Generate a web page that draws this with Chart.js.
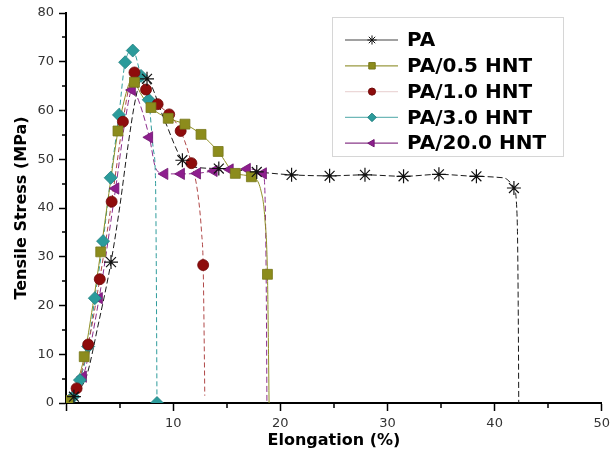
<!DOCTYPE html>
<html>
<head>
<meta charset="utf-8">
<script src="https://cdn.jsdelivr.net/npm/chart.js"></script>
<style>
  html, body { margin: 0; padding: 0; background: #fff; }
  #wrap { width: 610px; height: 452px; }
</style>
</head>
<body>
<div id="wrap"><canvas id="stressChart" width="610" height="452"></canvas></div>
<script>
// tensile curves, points are [elongation %, stress MPa]
const seriesNames = ['PA', 'PA/0.5 HNT', 'PA/1.0 HNT', 'PA/3.0 HNT', 'PA/20.0 HNT'];

const paCurve = [[0.5, 0], [0.74, 1.3], [1.9, 5.4], [3.0, 16], [4.2, 28.9], [5.0, 40], [5.8, 53], [6.5, 62.5],
  [7.1, 66.8], [7.56, 66.5], [9.2, 58], [10.86, 49.8], [12.3, 48.3], [14.26, 48.1], [17.8, 47.4], [21.05, 46.8],
  [24.6, 46.6], [27.9, 46.8], [31.5, 46.5], [34.8, 46.9], [38.3, 46.5], [40.8, 46.2], [41.8, 44.1], [42.1, 38],
  [42.2, 20], [42.25, 0]];
const paMarks = [[0.74, 1.3], [4.2, 28.9], [7.56, 66.5], [10.86, 49.8], [14.26, 48.1], [17.8, 47.4], [21.05, 46.8],
  [24.6, 46.6], [27.9, 46.8], [31.5, 46.5], [34.8, 46.9], [38.3, 46.5], [41.8, 44.1]];

const hnt05Curve = [[0.1, 0], [0.2, 0.5], [1.0, 4], [1.7, 9.5], [2.5, 20], [3.24, 31.0], [4.0, 43], [4.85, 55.8],
  [5.6, 63.5], [6.1, 66.2], [6.39, 65.8], [7.1, 63], [7.93, 60.6], [9.54, 58.4], [11.1, 57.2], [12.6, 55.1],
  [14.2, 51.6], [15.8, 47.1], [17.3, 46.4], [18.2, 43.5], [18.55, 38], [18.8, 26.4], [18.9, 10], [18.95, 0]];
const hnt05Marks = [[0.2, 0.5], [1.7, 9.5], [3.24, 31.0], [4.85, 55.8], [6.39, 65.8], [7.93, 60.6], [9.54, 58.4],
  [11.1, 57.2], [12.6, 55.1], [14.2, 51.6], [15.8, 47.1], [17.3, 46.4], [18.8, 26.4]];

const hnt10Curve = [[0.4, 0], [0.99, 3.0], [2.07, 12], [3.15, 25.4], [4.26, 41.3], [5.31, 57.7], [5.9, 65],
  [6.39, 67.8], [6.8, 67.3], [7.47, 64.3], [8.55, 61.3], [9.63, 59.2], [10.7, 55.8], [11.7, 49.2], [12.3, 43],
  [12.65, 35], [12.8, 28.3], [12.9, 12], [12.95, 1.5]];
const hnt10Marks = [[0.99, 3.0], [2.07, 12], [3.15, 25.4], [4.26, 41.3], [5.31, 57.7], [6.39, 67.8], [7.47, 64.3],
  [8.55, 61.3], [9.63, 59.2], [10.7, 55.8], [11.7, 49.2], [12.8, 28.3]];

const hnt30Curve = [[0.3, 0], [0.68, 1.3], [1.3, 4.7], [2.07, 11.6], [2.69, 21.5], [3.46, 33.2], [4.17, 46.2],
  [4.94, 59.1], [5.52, 69.9], [6.23, 72.3], [7.0, 67.1], [7.72, 62.2], [8.15, 52], [8.35, 46], [8.42, 30], [8.49, 0]];
const hnt30Marks = [[0.68, 1.3], [1.3, 4.7], [2.07, 11.6], [2.69, 21.5], [3.46, 33.2], [4.17, 46.2], [4.94, 59.1],
  [5.52, 69.9], [6.23, 72.3], [7.0, 67.1], [7.72, 62.2], [8.49, 0]];

const hnt200Curve = [[0.1, 0], [0.2, 0.8], [1.6, 5.4], [3.09, 21.5], [4.63, 44.0], [5.6, 59], [6.17, 64.2],
  [6.6, 63], [7.78, 54.5], [8.4, 48], [9.2, 47.0], [10.75, 47.0], [12.25, 47.1], [13.8, 47.6], [15.3, 47.9],
  [16.9, 48.0], [18.4, 47.1], [18.6, 40], [18.7, 20], [18.75, 0]];
const hnt200Marks = [[0.2, 0.8], [1.6, 5.4], [3.09, 21.5], [4.63, 44.0], [6.17, 64.2], [7.78, 54.5], [9.2, 47.0],
  [10.75, 47.0], [12.25, 47.1], [13.8, 47.6], [15.3, 47.9], [16.9, 48.0], [18.4, 47.1]];

const xTickValues = [0, 10, 20, 30, 40, 50];
const yTickValues = [0, 10, 20, 30, 40, 50, 60, 70, 80];

const curves = [paCurve, hnt05Curve, hnt10Curve, hnt30Curve, hnt200Curve];
const marks = [paMarks, hnt05Marks, hnt10Marks, hnt30Marks, hnt200Marks];

// look of each series
const looks = [
  { line: '#1a1a1a', dash: [6, 3], fill: '#111', edge: '#111', style: 'star', r: 7, rot: 0, key: '#444' },
  { line: '#8f8f25', dash: [], fill: '#8c8c1c', edge: '#77771a', style: 'rect', r: 7, rot: 0, key: '#9a9a40' },
  { line: '#b04848', dash: [5, 3], fill: '#8e0c0c', edge: '#6e0808', style: 'circle', r: 5.5, rot: 0, key: '#ecd8d8' },
  { line: '#2f9c9c', dash: [5, 3], fill: '#2b9b9b', edge: '#1f8080', style: 'rectRot', r: 6.5, rot: 0, key: '#6fb8b8' },
  { line: '#8c2c8c', dash: [6, 3], fill: '#8e1e8e', edge: '#701870', style: 'triangle', r: 6.5, rot: -90, key: '#8a3a8a' }
];

const toXY = (list) => list.map(([x, y]) => ({ x, y }));

const datasets = [];
curves.forEach((curve, i) => {
  const lk = looks[i];
  datasets.push({
    label: seriesNames[i],
    data: toXY(curve),
    borderColor: lk.line,
    borderWidth: 1,
    borderDash: lk.dash,
    pointRadius: 0,
    cubicInterpolationMode: 'monotone',
    fill: false,
    order: 2
  });
  datasets.push({
    label: seriesNames[i] + ' marks',
    data: toXY(marks[i]),
    showLine: false,
    pointStyle: lk.style,
    pointRadius: lk.r,
    pointRotation: lk.rot,
    pointBackgroundColor: lk.fill,
    pointBorderColor: lk.edge,
    pointBorderWidth: lk.style === 'star' ? 1.2 : 0.8,
    order: 1
  });
});

// short ticks halfway between the labelled ones
const minorTicks = {
  id: 'minorTicks',
  afterDraw(chart) {
    const { ctx } = chart;
    const x = chart.scales.x, y = chart.scales.y;
    ctx.save();
    ctx.strokeStyle = '#000';
    ctx.lineWidth = 1.5;
    ctx.beginPath();
    for (let v = 5; v < x.max; v += 10) {
      const px = Math.round(x.getPixelForValue(v));
      ctx.moveTo(px, x.top);
      ctx.lineTo(px, x.top + 5);
    }
    for (let v = 5; v < y.max; v += 10) {
      const py = Math.round(y.getPixelForValue(v));
      ctx.moveTo(y.right, py);
      ctx.lineTo(y.right - 4, py);
    }
    ctx.stroke();
    ctx.restore();
  }
};

// boxed key in the upper right, line sample with marker in the middle
const keyBox = {
  id: 'keyBox',
  afterDraw(chart) {
    const ctx = chart.ctx;
    const left = 332, top = 17, w = 231, h = 139;
    ctx.save();
    ctx.fillStyle = '#fff';
    ctx.fillRect(left, top, w, h);
    ctx.strokeStyle = '#d6d6d6';
    ctx.lineWidth = 1;
    ctx.strokeRect(left + 0.5, top + 0.5, w, h);
    seriesNames.forEach((name, i) => {
      const lk = looks[i];
      const yy = 40 + i * 25.8;
      ctx.setLineDash([]);
      ctx.strokeStyle = lk.key;
      ctx.lineWidth = 1.2;
      ctx.beginPath();
      ctx.moveTo(345, yy);
      ctx.lineTo(398, yy);
      ctx.stroke();
      ctx.fillStyle = lk.fill;
      ctx.strokeStyle = lk.edge;
      ctx.lineWidth = 1;
      if (Chart.helpers && Chart.helpers.drawPoint) {
        Chart.helpers.drawPoint(ctx, { pointStyle: lk.style, radius: lk.r * 0.65, rotation: lk.rot, borderWidth: 1 }, 372, yy);
      } else {
        ctx.beginPath();
        ctx.arc(372, yy, 4, 0, Math.PI * 2);
        ctx.fill();
      }
      ctx.fillStyle = '#000';
      ctx.font = 'bold 20px "DejaVu Sans"';
      ctx.textBaseline = 'middle';
      ctx.fillText(name, 407, yy + 1);
    });
    ctx.restore();
  }
};

const tickFont = { family: '"DejaVu Sans"', size: 13 };
const titleFont = { family: '"DejaVu Sans"', size: 16, weight: 'bold' };

new Chart(document.getElementById('stressChart'), {
  type: 'line',
  data: { datasets },
  options: {
    responsive: false,
    animation: false,
    devicePixelRatio: 1,
    layout: { padding: { top: 13, right: 4, left: 0, bottom: 0 } },
    plugins: { legend: { display: false }, tooltip: { enabled: false } },
    scales: {
      x: {
        type: 'linear',
        min: 0,
        max: 50,
        afterBuildTicks: (scale) => { scale.ticks = xTickValues.map(v => ({ value: v })); },
        afterFit: (scale) => { scale.height = 49; scale.paddingLeft = 0; scale.paddingRight = 0; },
        ticks: {
          font: tickFont,
          color: '#333',
          padding: 5,
          maxRotation: 0,
          callback: (v) => (v === 0 ? '' : v)
        },
        grid: { drawOnChartArea: false, drawTicks: true, tickLength: 8, tickColor: '#000', tickWidth: 1.5 },
        border: { display: true, color: '#000', width: 2 },
        title: { display: true, text: 'Elongation (%)', font: titleFont, color: '#000', padding: { top: 0, bottom: 2 } }
      },
      y: {
        type: 'linear',
        min: 0,
        max: 80,
        afterBuildTicks: (scale) => { scale.ticks = yTickValues.map(v => ({ value: v })); },
        afterFit: (scale) => { scale.width = 66; scale.paddingTop = 0; scale.paddingBottom = 0; },
        ticks: { font: tickFont, color: '#333', padding: 5 },
        grid: { drawOnChartArea: false, drawTicks: true, tickLength: 7, tickColor: '#000', tickWidth: 1.5 },
        border: { display: true, color: '#000', width: 2 },
        title: { display: true, text: 'Tensile Stress (MPa)', font: titleFont, color: '#000', padding: { top: 12, bottom: 0 } }
      }
    }
  },
  plugins: [minorTicks, keyBox]
});
</script>
</body>
</html>
